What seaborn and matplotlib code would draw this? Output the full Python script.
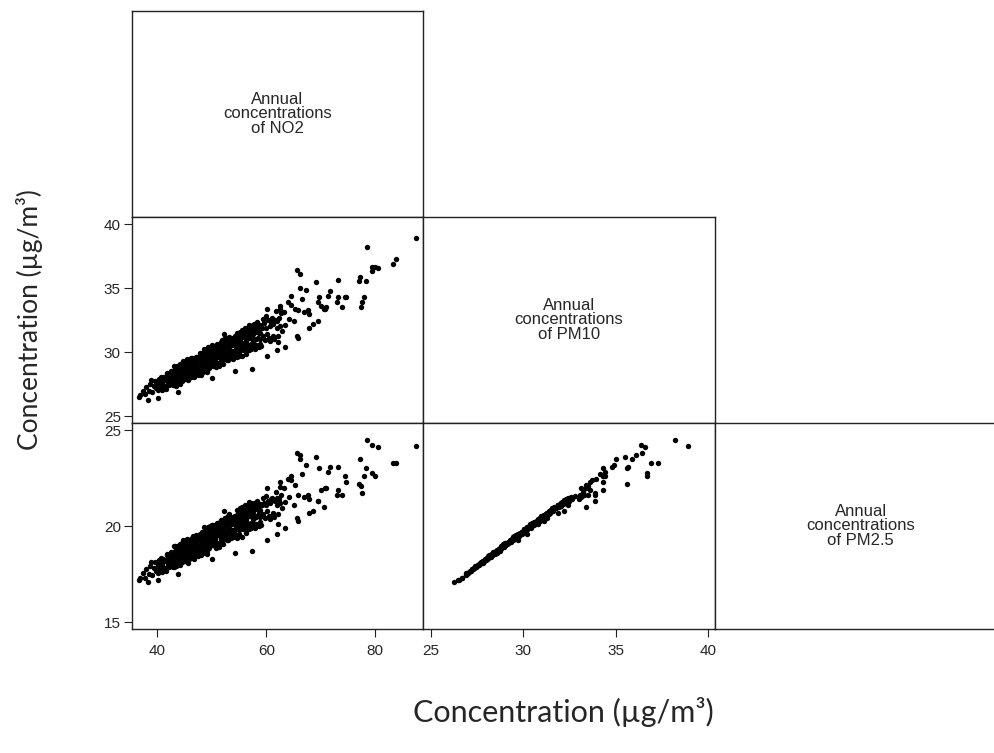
import matplotlib
matplotlib.use("Agg")
import matplotlib.pyplot as plt
import pandas as pd
import seaborn as sns

sns.set_style("white")
plt.rcParams['font.family'] = ['Liberation Sans', 'DejaVu Sans']

# ---- data ----
no2 = [
    36.6, 36.9, 37.3, 38.2, 38.0, 38.4, 38.7, 39.0, 39.3, 39.6, 39.8, 38.9, 40.2, 37.8,
    40.1, 40.6, 40.2, 40.4, 40.5, 40.8, 40.9, 41.1, 41.3, 41.5, 41.6, 41.8, 41.9, 42.0, 42.2, 42.3, 42.5, 42.6, 42.8, 42.9, 43.8,
    43.0, 43.1, 43.2, 43.3, 43.4, 43.5, 43.6, 43.7, 43.8, 43.9, 43.15, 43.65,
    44.0, 44.1, 44.2, 44.3, 44.4, 44.5, 44.6, 44.7, 44.8, 44.9, 44.15, 44.65,
    45.0, 45.1, 45.2, 45.3, 45.4, 45.5, 45.6, 45.7, 45.8, 45.9, 45.15, 45.65,
    46.0, 46.1, 46.2, 46.3, 46.4, 46.5, 46.6, 46.7, 46.8, 46.9, 46.15, 46.65,
    47.0, 47.1, 47.2, 47.3, 47.4, 47.5, 47.6, 47.7, 47.8, 47.9, 47.15, 47.65,
    48.0, 48.1, 48.2, 48.3, 48.4, 48.5, 48.6, 48.7, 48.8, 48.9, 48.15, 48.65,
    49.0, 49.1, 49.2, 49.3, 49.4, 49.5, 49.6, 49.7, 49.8, 49.9, 49.15, 49.65,
    50.0, 50.1, 50.2, 50.3, 50.4, 50.5, 50.6, 50.7, 50.8, 50.9, 50.15, 50.65, 50.0,
    51.0, 51.1, 51.2, 51.3, 51.4, 51.5, 51.6, 51.7, 51.8, 51.9, 51.15, 51.65,
    52.0, 52.1, 52.2, 52.3, 52.4, 52.5, 52.6, 52.7, 52.8, 52.9, 52.15, 52.65, 52.2,
    53.0, 53.1, 53.2, 53.3, 53.4, 53.5, 53.6, 53.7, 53.8, 53.9, 53.15, 53.65,
    54.0, 54.1, 54.2, 54.3, 54.4, 54.5, 54.6, 54.7, 54.8, 54.9, 54.15, 54.65, 54.3,
    55.0, 55.1, 55.2, 55.3, 55.4, 55.5, 55.6, 55.7, 55.8, 55.9,
    56.0, 56.1, 56.2, 56.3, 56.4, 56.5, 56.6, 56.7, 56.8, 56.9, 56.9,
    57.0, 57.1, 57.2, 57.3, 57.4, 57.5, 57.6, 57.7, 57.8, 57.9, 57.4,
    58.0, 58.1, 58.2, 58.3, 58.4, 58.5, 58.6, 58.7, 58.8, 58.9,
    59.0, 59.15, 59.3, 59.45, 59.6, 59.75, 59.9,
    60.0, 60.15, 60.3, 60.45, 60.6, 60.75, 60.9, 60.1, 60.1,
    61.0, 61.15, 61.3, 61.45, 61.6, 61.75, 61.9,
    62.0, 62.15, 62.3, 62.45, 62.6, 62.75, 62.9,
    63.2, 63.5, 63.9, 64.2, 64.6, 65.0, 65.3, 65.9, 66.5, 67.0,
    87.5, 78.5, 83.7, 83.2, 79.3, 80.5, 79.4, 79.9, 77.2, 77.0, 78.2, 78.0, 77.6, 77.4,
    73.2, 74.4, 74.6, 73.8, 72.9, 73.2, 69.2, 65.6, 66.2, 71.7, 71.4, 69.6, 69.5, 70.5,
    70.9, 67.3, 66.1, 64.5, 69.5, 68.6, 67.9, 65.7, 65.9, 63.4, 61.9, 62.1, 67.8, 67.6,
    70.0, 70.8, 62.6,
    40.35, 40.75, 41.25, 41.45, 41.7, 41.95, 42.15, 42.45, 42.75,
    43.05, 43.25, 43.45, 43.55, 43.85, 43.95,
    44.05, 44.25, 44.45, 44.55, 44.85, 44.95,
    45.05, 45.25, 45.45, 45.55, 45.85, 45.95,
    46.05, 46.25, 46.45, 46.55, 46.85, 46.95,
    47.05, 47.25, 47.45, 47.55, 47.85, 47.95,
    48.05, 48.25, 48.45, 48.55, 48.85, 48.95,
    49.05, 49.25, 49.45, 49.55, 49.85, 49.95,
    50.05, 50.25, 50.45, 50.55, 50.85, 50.95,
    51.05, 51.25, 51.45, 51.55, 51.85, 51.95,
    52.05, 52.25, 52.45, 52.55, 52.85, 52.95,
    53.05, 53.25, 53.45, 53.55, 53.85, 53.95,
    54.05, 54.25, 54.45, 54.55, 54.85, 54.95,
    55.05, 55.25, 55.45, 55.55, 55.85, 55.95,
    56.05, 56.25, 56.45, 56.55, 56.85, 56.95,
    57.25, 57.55, 57.85, 58.25, 58.55, 58.85,
    43.35, 43.75, 43.12, 43.58,
    44.35, 44.75, 44.12, 44.58,
    45.35, 45.75, 45.12, 45.58,
    46.35, 46.75, 46.12, 46.58,
    47.35, 47.75, 47.12, 47.58,
    48.35, 48.75, 48.12, 48.58,
    49.35, 49.75, 49.12, 49.58,
    50.35, 50.75, 50.12, 50.58,
    51.35, 51.75, 51.12, 51.58,
    52.35, 52.75, 52.12, 52.58,
    53.35, 53.75, 53.12, 53.58,
    54.35, 54.75, 54.12, 54.58,
    55.35, 55.75, 55.12, 55.58,
    56.35, 56.75, 56.12, 56.58,
    57.35, 57.75, 57.12, 57.58,
    58.35, 58.75, 58.12, 58.58,
]

pm10 = [
    26.53, 26.67, 26.93, 26.25, 27.25, 26.95, 27.48, 26.90, 27.36, 27.72, 27.16, 27.80, 26.45, 26.70,
    27.02, 28.02, 27.54, 27.28, 27.80, 27.06, 27.58, 28.02, 27.36, 27.85, 27.12, 28.26, 27.68, 28.05, 27.40, 27.93, 28.53, 27.65, 28.30, 27.43, 26.90,
    27.45, 28.28, 28.80, 27.93, 28.55, 27.38, 28.20, 28.73, 27.85, 28.58, 28.94, 27.71,
    28.10, 28.72, 27.54, 28.36, 28.88, 28.00, 28.65, 29.29, 27.96, 27.88, 28.53, 29.13,
    28.50, 29.02, 28.14, 28.86, 29.43, 28.10, 28.02, 28.84, 29.36, 28.48, 28.93, 27.83,
    29.00, 29.57, 28.24, 28.16, 28.98, 29.50, 28.62, 29.24, 28.06, 28.88, 29.23, 28.43,
    29.10, 29.62, 28.74, 29.36, 28.18, 29.00, 29.52, 28.64, 29.40, 29.93, 28.43, 28.38,
    29.56, 28.20, 29.15, 29.76, 28.74, 29.58, 30.23, 28.70, 28.61, 29.60, 29.94, 29.03,
    29.93, 28.92, 29.75, 30.41, 28.87, 28.79, 29.73, 30.33, 29.32, 30.04, 28.47, 29.51,
    30.58, 29.04, 28.95, 29.89, 30.48, 29.47, 30.18, 28.82, 29.76, 30.36, 29.17, 30.08, 28.00,
    30.60, 29.59, 30.30, 28.94, 29.88, 30.48, 29.46, 30.29, 30.94, 29.40, 29.14, 30.16,
    29.08, 30.02, 30.62, 29.60, 30.43, 31.08, 29.54, 29.45, 30.39, 30.98, 29.80, 30.59, 31.40,
    29.74, 30.57, 31.22, 29.68, 29.59, 30.53, 31.12, 30.11, 30.82, 29.46, 30.23, 30.91,
    29.82, 29.73, 30.67, 31.26, 30.25, 30.96, 29.60, 30.54, 31.14, 30.12, 30.78, 31.51, 28.50,
    29.82, 30.89, 31.56, 30.42, 31.22, 29.69, 30.75, 31.43, 30.28, 31.18,
    30.59, 31.40, 29.86, 30.93, 31.60, 30.46, 31.39, 30.25, 31.31, 31.99, 32.10,
    31.10, 31.77, 30.62, 31.55, 30.40, 31.46, 32.13, 30.98, 31.78, 30.24, 28.70,
    31.69, 30.55, 31.61, 32.29, 31.14, 31.95, 30.41, 31.48, 32.15, 31.01,
    30.45, 31.89, 32.63, 31.26, 32.30, 30.94, 31.88,
    32.80, 31.44, 32.48, 31.11, 32.05, 30.89, 32.33, 33.40, 29.70,
    32.65, 31.29, 32.23, 31.06, 32.50, 33.24, 31.88,
    32.40, 31.23, 32.66, 33.39, 32.02, 33.05, 31.68,
    33.15, 32.13, 33.93, 32.60, 33.70, 32.40, 33.37, 33.30, 34.15, 33.15,
    38.90, 38.20, 37.30, 36.90, 36.35, 36.60, 36.70, 36.70, 35.90, 35.60, 35.60, 34.30, 33.90, 33.50,
    35.65, 34.30, 34.30, 33.50, 33.90, 34.30, 35.50, 36.40, 36.10, 34.80, 34.40, 34.30, 33.90, 33.40,
    33.50, 34.90, 35.00, 34.40, 32.40, 32.20, 31.90, 31.30, 31.10, 30.40, 30.20, 30.80, 33.00, 33.30,
    33.60, 33.40, 33.60,
    27.92, 27.30, 27.85, 27.24, 28.34, 27.59, 28.34, 27.76, 28.09,
    27.76, 28.66, 27.46, 28.34, 28.91, 28.19,
    27.61, 28.50, 29.04, 28.31, 28.17, 29.00,
    29.16, 28.45, 28.29, 29.12, 27.97, 28.84,
    29.26, 28.05, 28.94, 29.46, 28.77, 28.59,
    29.06, 29.60, 28.89, 28.71, 29.62, 28.39,
    28.76, 29.79, 28.41, 29.41, 30.06, 29.22,
    28.56, 29.58, 30.21, 29.37, 29.21, 30.22,
    30.36, 29.53, 29.34, 30.34, 28.97, 29.96,
    30.44, 29.05, 30.06, 30.66, 29.85, 29.64,
    30.18, 30.80, 29.97, 29.76, 30.76, 29.39,
    30.09, 29.90, 30.92, 29.51, 30.54, 31.14,
    30.06, 31.08, 29.69, 30.68, 31.32, 30.47,
    29.70, 30.86, 31.56, 30.61, 30.42, 31.50,
    31.71, 30.78, 30.57, 31.67, 30.15, 31.29,
    32.05, 30.61, 31.57, 30.46, 32.04, 31.51,
    28.49, 27.79, 28.13, 28.95,
    27.92, 28.50, 29.07, 27.77,
    28.62, 29.40, 27.87, 28.37,
    29.52, 28.20, 28.47, 29.17,
    28.32, 28.80, 29.27, 28.57,
    28.90, 29.69, 28.61, 29.31,
    29.84, 29.02, 29.44, 30.36,
    29.15, 29.81, 30.48, 28.97,
    29.93, 30.81, 29.07, 29.63,
    30.93, 29.40, 29.73, 30.52,
    29.52, 30.06, 30.62, 29.80,
    30.18, 30.95, 29.90, 30.58,
    31.15, 30.20, 30.70, 31.73,
    30.35, 31.11, 31.86, 30.15,
    31.24, 32.23, 30.27, 30.89,
    32.37, 30.64, 31.00, 31.91,
]

pm25 = [
    17.22, 17.30, 17.55, 17.10, 17.76, 17.50, 17.92, 17.45, 17.84, 18.12, 17.66, 18.15, 17.20, 17.32,
    17.59, 18.33, 17.96, 17.78, 18.15, 17.62, 17.99, 18.31, 17.84, 18.19, 17.66, 18.48, 18.07, 18.34, 17.86, 18.25, 18.68, 18.04, 18.51, 17.89, 17.50,
    17.90, 18.42, 18.95, 18.25, 18.69, 17.93, 18.44, 18.82, 18.19, 18.63, 18.97, 18.09,
    18.37, 18.72, 17.96, 18.64, 18.93, 18.22, 18.76, 19.30, 18.27, 18.21, 18.68, 19.11,
    18.66, 19.12, 18.40, 18.92, 19.33, 18.45, 18.31, 18.90, 19.18, 18.64, 18.97, 18.10,
    19.02, 19.35, 18.47, 18.50, 19.00, 19.47, 18.74, 19.19, 18.27, 18.93, 19.18, 18.61,
    19.09, 19.55, 18.75, 19.28, 18.43, 19.02, 19.31, 18.76, 19.30, 19.62, 18.61, 18.57,
    19.42, 18.52, 19.12, 19.48, 18.83, 19.43, 19.98, 18.80, 18.74, 19.37, 19.69, 19.04,
    19.69, 19.05, 19.56, 19.94, 18.92, 18.86, 19.62, 19.97, 19.25, 19.76, 18.55, 19.38,
    20.06, 19.04, 19.07, 19.66, 20.08, 19.35, 19.95, 18.89, 19.56, 20.09, 19.14, 19.79, 18.30,
    20.17, 19.52, 19.95, 18.90, 19.65, 20.17, 19.35, 19.94, 20.32, 19.30, 19.12, 19.85,
    19.07, 19.83, 20.18, 19.45, 20.05, 20.42, 19.40, 19.42, 20.02, 20.53, 19.59, 20.16, 20.80,
    19.55, 20.24, 20.61, 19.43, 19.44, 20.12, 20.45, 19.82, 20.33, 19.44, 19.90, 20.39,
    19.61, 19.62, 20.22, 20.55, 19.92, 20.43, 19.38, 20.13, 20.56, 19.82, 20.39, 20.82, 18.62,
    19.61, 20.29, 20.95, 20.04, 20.61, 19.42, 20.28, 20.77, 19.94, 20.50,
    20.16, 20.65, 19.64, 20.41, 20.80, 20.07, 20.70, 19.92, 20.68, 21.08, 21.25,
    20.53, 20.92, 20.18, 20.85, 20.02, 20.70, 21.15, 20.44, 21.02, 19.91, 18.72,
    20.95, 20.13, 20.90, 21.25, 20.56, 21.02, 20.03, 20.80, 21.15, 20.46,
    20.06, 21.10, 21.45, 20.64, 21.22, 20.41, 21.09,
    21.55, 20.77, 21.30, 20.54, 21.21, 20.38, 21.41, 22.00, 19.28,
    21.45, 20.66, 21.34, 20.50, 21.30, 21.80, 21.09,
    21.46, 20.62, 21.40, 22.05, 21.19, 21.60, 20.95,
    22.00, 21.27, 22.45, 21.50, 22.40, 21.10, 22.16, 21.60, 22.72, 21.50,
    24.15, 24.50, 23.30, 23.30, 24.20, 24.10, 22.75, 22.60, 23.50, 22.20, 23.05, 22.60, 21.70, 22.07,
    23.10, 22.60, 22.30, 21.60, 21.60, 21.90, 23.60, 23.80, 23.70, 23.10, 22.80, 23.00, 21.30, 21.00,
    22.00, 23.20, 23.50, 22.60, 21.30, 20.80, 20.70, 20.45, 20.25, 19.90, 19.60, 20.10, 21.40, 21.60,
    21.90, 22.00, 22.30,
    18.24, 17.79, 18.19, 17.75, 18.54, 18.00, 18.50, 18.12, 18.36,
    18.12, 18.70, 17.91, 18.54, 18.95, 18.43,
    18.02, 18.66, 19.12, 18.52, 18.42, 19.02,
    19.13, 18.62, 18.50, 19.10, 18.27, 18.90,
    19.20, 18.33, 18.97, 19.27, 18.85, 18.72,
    19.06, 19.45, 18.94, 18.81, 19.46, 18.58,
    18.84, 19.58, 18.59, 19.31, 19.86, 19.17,
    18.70, 19.43, 19.89, 19.28, 19.17, 19.90,
    20.00, 19.40, 19.26, 19.98, 18.99, 19.71,
    20.05, 19.05, 19.78, 20.21, 19.63, 19.48,
    19.87, 20.22, 19.71, 19.56, 20.28, 19.30,
    19.80, 19.66, 20.40, 19.38, 20.13, 20.47,
    19.78, 20.51, 19.51, 20.23, 20.69, 20.07,
    19.52, 20.36, 20.78, 20.17, 20.04, 20.82,
    20.97, 20.30, 20.15, 21.02, 19.84, 20.66,
    21.21, 20.17, 20.87, 20.07, 21.05, 20.82,
    18.65, 18.14, 18.39, 18.98,
    18.24, 18.66, 19.07, 18.13,
    18.74, 19.30, 18.20, 18.56,
    19.39, 18.44, 18.63, 19.14,
    18.53, 18.87, 19.21, 18.71,
    18.94, 19.51, 18.74, 19.24,
    19.62, 19.03, 19.33, 20.00,
    19.12, 19.60, 20.08, 18.99,
    19.69, 20.32, 19.07, 19.47,
    20.41, 19.30, 19.54, 20.11,
    19.39, 19.78, 20.18, 19.59,
    19.87, 20.42, 19.66, 20.15,
    20.56, 19.88, 20.24, 20.98,
    19.99, 20.54, 21.08, 19.84,
    20.63, 21.20, 19.93, 20.38,
    21.30, 20.20, 20.46, 21.11,
]

variables = ["NO2", "PM10", "PM2.5"]
diag_labels = ["Annual\nconcentrations\nof NO2",
               "Annual\nconcentrations\nof PM10",
               "Annual\nconcentrations\nof PM2.5"]
tick_values = {"NO2": [40, 60, 80], "PM10": [25, 30, 35, 40], "PM2.5": [15, 20, 25]}
axis_title = "Concentration (\u00b5g/m\u00b3)"

df = pd.DataFrame({"NO2": no2, "PM10": pm10, "PM2.5": pm25})

# ---- layout (pixels of a 994 x 753 canvas) ----
W, H = 994, 753
xlims = {"NO2": (35.3, 88.8), "PM10": (24.6, 40.36), "PM2.5": (14.64, 25.38)}
ylims = {"NO2": (35.3, 88.8), "PM10": (24.48, 40.6), "PM2.5": (14.64, 25.38)}
col_x = [131.7, 423.3, 715.0]
cell_w = 291.6
row_y = [10.7, 216.7, 422.7]
row_h = [206.0, 206.0, 206.6]
line_col = "#222222"

fig = plt.figure(figsize=(W / 100, H / 100), dpi=100)

for i in range(3):
    for j in range(i + 1):
        ax = fig.add_axes([col_x[j] / W, 1 - (row_y[i] + row_h[i]) / H,
                           cell_w / W, row_h[i] / H])
        for sp in ax.spines.values():
            sp.set_visible(True)
            sp.set_color(line_col)
            sp.set_linewidth(1.0)
        if i == j:
            ax.text(0.5, 0.5, diag_labels[i], ha="center", va="center",
                    fontsize=12, linespacing=0.95, transform=ax.transAxes)
            ax.set_xticks([])
            ax.set_yticks([])
            continue
        sns.scatterplot(data=df, x=variables[j], y=variables[i], ax=ax,
                        s=15, color="black", linewidth=0, legend=False)
        ax.set_xlim(xlims[variables[j]])
        ax.set_ylim(ylims[variables[i]])
        ax.set_xlabel("")
        ax.set_ylabel("")
        if j == 0:
            ax.set_yticks(tick_values[variables[i]])
            ax.set_yticklabels([str(v) for v in tick_values[variables[i]]])
        else:
            ax.set_yticks([])
        if i == 2:
            ax.set_xticks(tick_values[variables[j]])
            ax.set_xticklabels([str(v) for v in tick_values[variables[j]]])
        else:
            ax.set_xticks([])
        ax.tick_params(axis="both", direction="out", length=5.8, width=0.8,
                       color=line_col, labelsize=11,
                       left=(j == 0), bottom=(i == 2))
        ax.tick_params(axis="y", pad=2)
        ax.tick_params(axis="x", pad=5)

fig.text(30 / W, 1 - 320 / H, axis_title, rotation=90, ha="center", va="center",
         fontsize=19, family=["Lato", "DejaVu Sans"])
fig.text(563 / W, 1 - 712 / H, axis_title, ha="center", va="center",
         fontsize=22, family=["Lato", "DejaVu Sans"])

fig.savefig("out.png", dpi=100, facecolor="white")
